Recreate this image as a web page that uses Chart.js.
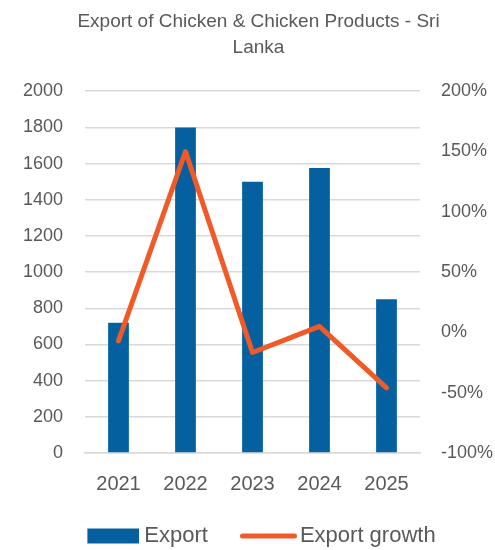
<!DOCTYPE html>
<html>
<head>
<meta charset="utf-8">
<script src="https://cdn.jsdelivr.net/npm/chart.js@4/dist/chart.umd.min.js"></script>
<style>
html,body{margin:0;padding:0;background:#fff;}
#wrap{width:495px;height:550px;}
</style>
</head>
<body>
<div id="wrap"><canvas id="c" width="495" height="550"></canvas></div>
<script>
const years = ["2021", "2022", "2023", "2024", "2025"];
const exportValues = [720, 1800, 1500, 1575, 850];
const exportGrowth = [-7, 150, -16.7, 5, -46];
const titleLines = ["Export of Chicken & Chicken Products - Sri", "Lanka"];

const TEXT = "#595959";
const FONT = "'Liberation Sans', Arial, sans-serif";
const BLUE = "#0560A0";
const ORANGE = "#F05A28";

// legend marker images (drawn with offsets so that the gap to the text is small)
function makeRectMarker() {
  const c = document.createElement("canvas");
  c.width = 64; c.height = 16;
  const g = c.getContext("2d");
  g.fillStyle = BLUE;
  g.fillRect(12, 0.5, 52, 15);
  return c;
}
function makeLineMarker() {
  const c = document.createElement("canvas");
  c.width = 68; c.height = 10;
  const g = c.getContext("2d");
  g.strokeStyle = ORANGE;
  g.lineWidth = 5;
  g.lineCap = "round";
  g.beginPath();
  g.moveTo(13.5, 5);
  g.lineTo(65.5, 5);
  g.stroke();
  return c;
}
const rectMarker = makeRectMarker();
const lineMarker = makeLineMarker();

new Chart(document.getElementById("c"), {
  data: {
    labels: years,
    datasets: [
      {
        type: "bar",
        label: "Export",
        data: exportValues,
        backgroundColor: BLUE,
        borderWidth: 0,
        barPercentage: 0.31,
        categoryPercentage: 1,
        yAxisID: "y",
        order: 1
      },
      {
        type: "line",
        label: "Export growth",
        data: exportGrowth,
        borderColor: ORANGE,
        backgroundColor: ORANGE,
        borderWidth: 5,
        pointRadius: 0,
        borderJoinStyle: "round",
        borderCapStyle: "round",
        tension: 0,
        yAxisID: "y1",
        order: 0
      }
    ]
  },
  options: {
    responsive: false,
    animation: false,
    layout: { padding: { top: 8, bottom: 0, left: 22, right: 0 } },
    plugins: {
      tooltip: { enabled: false },
      title: {
        display: true,
        text: titleLines,
        color: TEXT,
        font: { family: FONT, size: 19, weight: "normal", lineHeight: 1.4 },
        padding: { top: 0, bottom: 30 }
      },
      legend: {
        position: "bottom",
        maxHeight: 54,
        labels: {
          color: TEXT,
          font: { family: FONT, size: 22 },
          usePointStyle: true,
          pointStyleWidth: 52,
          boxHeight: 15,
          padding: 29,
          sort: (a, b) => a.datasetIndex - b.datasetIndex,
          generateLabels(chart) {
            const items = Chart.defaults.plugins.legend.labels.generateLabels(chart);
            items.forEach(it => {
              it.pointStyle = it.datasetIndex === 0 ? rectMarker : lineMarker;
              it.lineWidth = 0;
            });
            return items;
          }
        }
      }
    },
    scales: {
      x: {
        grid: { display: false, drawTicks: false },
        border: { display: true, color: "#d9d9d9", width: 1.5 },
        ticks: { color: TEXT, font: { family: FONT, size: 20 }, padding: 19 },
        afterFit(s) { s.height = 43; }
      },
      y: {
        position: "left",
        min: 0,
        max: 2000,
        ticks: {
          stepSize: 200,
          color: TEXT,
          font: { family: FONT, size: 18 },
          padding: 22,
          callback: v => String(v)
        },
        grid: { color: "#d9d9d9", lineWidth: 1.5, drawTicks: false },
        border: { display: false },
        afterFit(s) { s.width = 63; }
      },
      y1: {
        position: "right",
        min: -100,
        max: 200,
        ticks: {
          stepSize: 50,
          color: TEXT,
          font: { family: FONT, size: 18 },
          padding: 21,
          callback: v => v + "%"
        },
        grid: { display: false, drawTicks: false },
        border: { display: false },
        afterFit(s) { s.width = 75; }
      }
    }
  }
});
</script>
</body>
</html>
